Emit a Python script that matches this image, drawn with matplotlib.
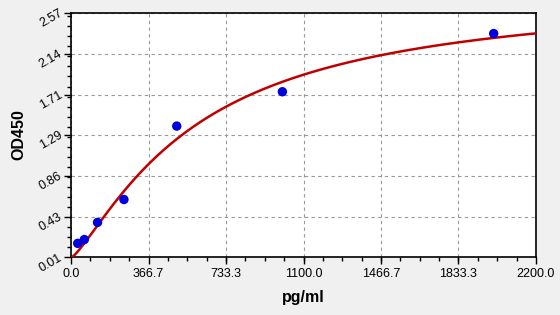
import numpy as np
import matplotlib
matplotlib.use('Agg')
import matplotlib.pyplot as plt
from matplotlib.ticker import AutoMinorLocator

# standard points (concentration, OD)
conc = [31.25, 62.5, 125, 250, 500, 1000, 2000]
od = [0.15, 0.19, 0.37, 0.61, 1.38, 1.74, 2.35]

# four parameter logistic fit: y = D + (A - D) / (1 + (x / C) ** B)
fit_a = 0.0
fit_b = 1.27
fit_c = 596.0
fit_d = 2.80

x_ticks = [0.0, 366.7, 733.3, 1100.0, 1466.7, 1833.3, 2200.0]
y_ticks = [0.01, 0.43, 0.86, 1.29, 1.71, 2.14, 2.57]


def main():
    plt.rcParams['font.family'] = ['Liberation Sans', 'DejaVu Sans']

    fig = plt.figure(figsize=(5.6, 3.15), dpi=100)
    fig.patch.set_facecolor('#f0f0f0')
    ax = fig.add_axes([0.127, 0.185, 0.830, 0.775])
    ax.set_facecolor('white')

    xs = np.linspace(0, x_ticks[-1], 400)
    ys = fit_d + (fit_a - fit_d) / (1 + (xs / fit_c) ** fit_b)
    ax.plot(xs, ys, color='#c00000', linewidth=1.8, zorder=3)
    ax.scatter(conc, od, s=46, color='#0000dd', zorder=4, edgecolors='none')

    ax.set_xlim(x_ticks[0], x_ticks[-1])
    ax.set_ylim(y_ticks[0], y_ticks[-1])
    ax.set_xticks(x_ticks)
    ax.set_yticks(y_ticks)
    ax.set_xticklabels(['%.1f' % v for v in x_ticks], fontsize=9)
    ax.set_yticklabels(['%.2f' % v for v in y_ticks], fontsize=9, rotation=30,
                       ha='right', va='center', rotation_mode='anchor')
    ax.xaxis.set_minor_locator(AutoMinorLocator(4))
    ax.yaxis.set_minor_locator(AutoMinorLocator(4))
    ax.tick_params(which='major', direction='out', length=5, width=1, color='black')
    ax.tick_params(which='minor', direction='out', length=3, width=1, color='black')
    ax.tick_params(axis='y', which='major', pad=2)
    ax.tick_params(axis='x', which='major', pad=3)

    ax.grid(True, which='major', linestyle=(0, (3, 3)), color='#999999', linewidth=0.8)
    for s in ax.spines.values():
        s.set_linewidth(1.2)
        s.set_color('black')

    ax.set_xlabel('pg/ml', fontsize=11.5, fontweight='bold', labelpad=7)
    ax.set_ylabel('OD450', fontsize=11.5, fontweight='bold', labelpad=8)

    fig.savefig('out.png', dpi=100, facecolor=fig.get_facecolor())


if __name__ == "__main__":
    main()
